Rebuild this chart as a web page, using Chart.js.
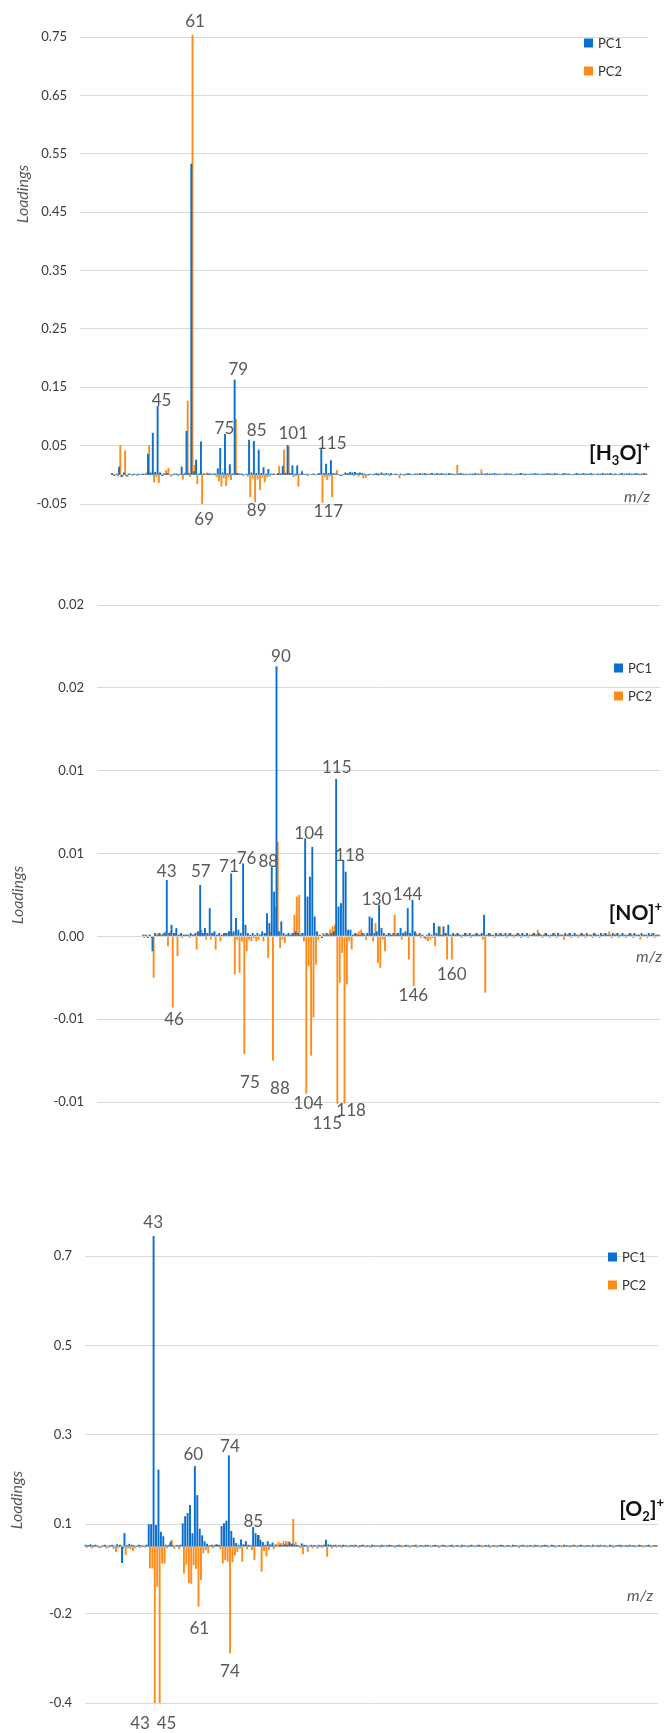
<!DOCTYPE html>
<html>
<head>
<meta charset="utf-8">
<script src="https://cdn.jsdelivr.net/npm/chart.js@4.4.1/dist/chart.umd.min.js"></script>
<style>
  body { margin: 0; background: #fff; width: 665px; height: 1733px; position: relative; overflow: hidden; }
  canvas { position: absolute; left: 0; }
</style>
</head>
<body>
<canvas id="h3o" width="665" height="560" style="top:0px"></canvas>
<canvas id="no" width="665" height="600" style="top:560px"></canvas>
<canvas id="o2" width="665" height="573" style="top:1160px"></canvas>
<script>
// m/z channels 15..250, one bar pair per channel
const mzValues = Array.from({ length: 236 }, (_, i) => 15 + i);

// ---- [H3O]+ loadings (rows of 10, starting at m/z 15) ----
const h3oPc1 = [
  null, null, null, null, null, null, null, null, null, null,
  null, null, null, 0.003, -0.002, 0.002, 0.014, -0.004, 0.004, -0.002,
  0.002, 0.001, 0.002, 0.001, 0.002, 0.001, 0.002, 0.002, 0.036, 0.004,
  0.072, 0.005, 0.118, 0.004, -0.002, 0.002, 0.003, 0.001, -0.001, 0.002,
  0.002, 0.001, 0.014, 0.002, 0.075, 0.003, 0.533, 0.006, 0.026, 0.002,
  0.057, 0.002, 0.001, 0.002, 0.002, 0.001, 0.002, 0.011, 0.046, 0.004,
  0.070, 0.003, 0.018, 0.002, 0.163, 0.003, 0.002, 0.002, 0.001, 0.002,
  0.060, 0.004, 0.058, 0.003, 0.043, 0.003, 0.013, 0.002, 0.010, 0.002,
  0.002, 0.001, 0.003, 0.002, 0.015, 0.003, 0.051, 0.003, 0.016, 0.002,
  0.016, 0.002, 0.006, 0.001, 0.002, 0.001, 0.001, 0.002, 0.001, 0.003,
  0.044, 0.003, 0.019, 0.003, 0.025, 0.003, 0.002, 0.001, -0.002, 0.001,
  0.004, 0.003, 0.005, 0.004, 0.005, 0.003, 0.004, 0.003, 0.002, 0.001,
  0.002, 0.001, 0.002, 0.003, 0.002, 0.004, 0.002, 0.003, 0.002, 0.003,
  0.001, 0.002, 0.001, 0.002, 0.001, 0.002, 0.003, 0.002, 0.001, 0.002,
  0.002, 0.003, 0.002, 0.003, 0.002, 0.002, 0.003, 0.002, 0.003, 0.002,
  0.003, 0.002, 0.002, 0.003, 0.002, 0.002, 0.001, 0.002, 0.003, 0.002,
  0.002, 0.001, 0.002, 0.002, 0.003, 0.002, 0.001, 0.002, 0.002, 0.003,
  0.002, 0.002, 0.003, 0.002, 0.002, 0.001, 0.002, 0.003, 0.002, 0.002,
  0.001, 0.002, 0.002, 0.003, 0.002, 0.002, 0.001, 0.002, 0.002, 0.003,
  0.002, 0.001, 0.002, 0.002, 0.003, 0.002, 0.002, 0.003, 0.002, 0.001,
  0.002, 0.003, 0.002, 0.002, 0.001, 0.002, 0.003, 0.002, 0.002, 0.003,
  0.002, 0.002, 0.003, 0.002, 0.001, 0.002, 0.002, 0.003, 0.002, 0.002,
  0.003, 0.002, 0.002, 0.001, 0.002, 0.003, 0.002, 0.002, 0.003, 0.002,
  0.002, 0.003, 0.002, 0.002, 0.003, 0.002
];
const h3oPc2 = [
  null, null, null, null, null, null, null, null, null, null,
  null, null, null, 0.002, 0.001, -0.003, 0.051, -0.003, 0.042, -0.004,
  0.002, -0.002, 0.001, -0.002, 0.001, 0.002, 0.001, 0.004, 0.051, 0.003,
  -0.013, -0.004, -0.014, 0.002, 0.003, 0.008, 0.012, -0.003, 0.002, 0.001,
  -0.002, 0.002, -0.008, 0.004, 0.127, -0.004, 0.754, 0.017, -0.016, 0.003,
  -0.050, 0.003, 0.004, 0.003, 0.002, 0.003, -0.004, -0.011, -0.020, -0.006,
  -0.019, -0.004, -0.009, 0.002, 0.096, 0.003, 0.002, -0.002, -0.001, -0.003,
  -0.038, -0.006, -0.047, -0.008, -0.026, -0.005, -0.013, -0.004, -0.003, 0.001,
  0.002, 0.001, 0.015, 0.003, 0.043, 0.004, 0.049, 0.003, -0.004, -0.002,
  -0.020, 0.001, 0.002, 0.001, -0.002, 0.001, 0.002, -0.001, 0.002, 0.001,
  -0.048, -0.004, -0.009, -0.003, -0.038, 0.002, 0.008, 0.001, -0.002, 0.001,
  0.002, -0.001, 0.002, -0.002, 0.001, -0.003, 0.002, -0.006, -0.005, -0.002,
  0.001, -0.001, 0.002, -0.002, 0.001, 0.002, -0.001, 0.001, -0.002, 0.001,
  0.002, -0.001, -0.006, 0.001, -0.002, 0.001, 0.002, -0.001, 0.001, 0.002,
  -0.001, 0.001, 0.002, -0.001, 0.001, 0.002, 0.001, -0.001, 0.001, 0.002,
  0.001, -0.001, 0.001, 0.002, 0.001, -0.001, 0.017, 0.002, 0.001, -0.001,
  0.001, 0.002, 0.001, -0.001, 0.001, 0.002, 0.009, 0.001, -0.001, 0.001,
  0.002, 0.001, -0.001, 0.001, 0.002, 0.001, -0.001, 0.001, 0.002, 0.001,
  -0.001, 0.001, 0.002, 0.001, -0.001, 0.001, 0.002, 0.001, -0.001, 0.001,
  0.001, 0.002, -0.001, 0.001, 0.001, 0.002, -0.001, 0.001, 0.002, 0.001,
  -0.001, 0.001, 0.002, 0.001, -0.001, 0.001, 0.002, 0.001, 0.001, -0.001,
  0.002, 0.001, -0.001, 0.001, 0.002, 0.001, 0.001, -0.001, 0.002, 0.001,
  0.001, -0.001, 0.002, 0.001, 0.001, -0.001, 0.002, 0.001, -0.001, 0.001,
  0.002, 0.001, -0.001, 0.001, 0.002, 0.001
];

// ---- [NO]+ loadings ----
const noPc1 = [
  null, null, null, null, null, null, null, null, null, null,
  null, null, null, null, null, null, null, null, null, 0.0001,
  0.0001, -0.0001, 0.0001, -0.0009, 0.0002, 0.0001, 0.0002, 0.0001, 0.0002, 0.0034,
  0.0002, 0.0007, 0.0002, 0.0005, 0.0001, 0.0002, 0.0001, 0.0001, 0.0001, 0.0002,
  0.0001, 0.0002, 0.0003, 0.0031, 0.0002, 0.0005, 0.0002, 0.0017, 0.0002, 0.0003,
  0.0001, 0.0002, 0.0001, 0.0002, 0.0002, 0.0003, 0.0038, 0.0003, 0.0011, 0.0004,
  0.0002, 0.0044, 0.0007, 0.0002, 0.0001, 0.0002, 0.0001, 0.0002, 0.0001, 0.0003,
  0.0002, 0.0014, 0.0008, 0.0042, 0.0027, 0.0163, 0.0003, 0.0009, 0.0002, 0.0001,
  0.0002, 0.0001, 0.0002, 0.0003, 0.0002, 0.0001, 0.0002, 0.0059, 0.0024, 0.0036,
  0.0054, 0.0012, 0.0003, 0.0001, -0.0001, 0.0001, 0.0002, 0.0001, 0.0002, 0.0003,
  0.0095, 0.0018, 0.0020, 0.0046, 0.0039, 0.0004, 0.0004, 0.0001, 0.0002, 0.0001,
  0.0001, 0.0002, 0.0001, 0.0002, 0.0012, 0.0011, 0.0002, 0.0003, 0.0019, 0.0005,
  0.0002, 0.0001, 0.0002, 0.0001, 0.0002, 0.0001, 0.0002, 0.0005, 0.0002, 0.0003,
  0.0017, 0.0002, 0.0022, 0.0003, 0.0001, 0.0002, 0.0001, -0.0001, 0.0001, 0.0002,
  0.0001, 0.0008, 0.0002, 0.0006, 0.0001, 0.0006, 0.0002, 0.0007, 0.0001, 0.0002,
  0.0001, 0.0002, 0.0001, 0.0001, 0.0002, 0.0001, 0.0002, 0.0001, 0.0001, 0.0002,
  0.0001, 0.0002, 0.0013, 0.0001, 0.0002, 0.0001, 0.0001, 0.0002, 0.0001, 0.0002,
  0.0001, 0.0002, 0.0001, 0.0002, 0.0001, 0.0001, 0.0002, 0.0001, 0.0002, 0.0001,
  0.0002, 0.0001, 0.0001, 0.0002, 0.0001, 0.0002, 0.0001, 0.0001, 0.0002, 0.0001,
  0.0001, 0.0002, 0.0001, 0.0002, 0.0001, 0.0001, 0.0002, 0.0001, 0.0002, 0.0001,
  0.0002, 0.0001, 0.0001, 0.0002, 0.0001, 0.0002, 0.0001, 0.0001, 0.0002, 0.0001,
  0.0001, 0.0002, 0.0001, 0.0002, 0.0001, 0.0001, 0.0002, 0.0001, 0.0002, 0.0001,
  0.0002, 0.0001, 0.0001, 0.0002, 0.0001, 0.0002, 0.0001, 0.0001, 0.0002, 0.0001,
  0.0001, 0.0002, 0.0001, 0.0002, 0.0001, 0.0001
];
const noPc2 = [
  null, null, null, null, null, null, null, null, null, null,
  null, null, null, null, null, null, null, null, null, -0.0001,
  0.0001, 0.0001, -0.0001, -0.0025, 0.0001, 0.0002, 0.0001, 0.0002, 0.0003, -0.0006,
  0.0003, -0.0043, 0.0002, -0.0012, 0.0001, -0.0001, 0.0001, 0.0001, -0.0001, 0.0001,
  0.0001, -0.0008, 0.0003, 0.0004, 0.0002, -0.0002, 0.0001, -0.0002, 0.0002, -0.0008,
  0.0001, -0.0003, 0.0001, 0.0002, 0.0001, 0.0003, 0.0002, -0.0023, -0.0002, -0.0022,
  -0.0003, -0.0071, -0.0009, -0.0002, -0.0003, -0.0001, -0.0003, -0.0002, 0.0001, -0.0003,
  0.0002, -0.0013, 0.0003, -0.0075, 0.0018, 0.0057, -0.0007, -0.0002, -0.0004, 0.0001,
  0.0001, 0.0002, 0.0013, 0.0024, 0.0025, 0.0002, -0.0003, -0.0095, -0.0018, -0.0072,
  -0.0049, -0.0017, -0.0002, 0.0001, 0.0002, 0.0001, 0.0002, 0.0004, 0.0006, 0.0007,
  -0.0101, -0.0028, -0.0010, -0.0101, -0.0029, -0.0003, -0.0008, 0.0001, 0.0002, 0.0003,
  0.0004, 0.0002, -0.0002, 0.0001, 0.0002, -0.0003, 0.0008, -0.0016, -0.0019, -0.0002,
  -0.0009, 0.0001, 0.0002, 0.0001, 0.0013, 0.0002, 0.0001, -0.0002, 0.0001, 0.0002,
  -0.0014, 0.0001, -0.0030, 0.0002, 0.0001, -0.0001, 0.0001, -0.0002, -0.0003, -0.0002,
  -0.0001, -0.0006, 0.0001, 0.0006, 0.0001, 0.0002, -0.0014, 0.0001, -0.0014, 0.0001,
  0.0002, 0.0001, -0.0001, 0.0001, 0.0002, 0.0001, -0.0001, 0.0001, 0.0002, 0.0001,
  0.0001, -0.0002, -0.0034, 0.0001, 0.0002, 0.0001, -0.0001, 0.0001, 0.0002, 0.0001,
  0.0001, -0.0001, 0.0002, 0.0001, -0.0001, 0.0001, 0.0002, -0.0001, 0.0001, 0.0001,
  -0.0001, 0.0001, 0.0002, 0.0001, 0.0004, 0.0001, -0.0001, 0.0002, 0.0001, -0.0001,
  0.0001, 0.0002, -0.0001, 0.0001, 0.0001, -0.0002, 0.0001, 0.0002, -0.0001, 0.0001,
  0.0001, -0.0001, 0.0002, 0.0001, -0.0001, 0.0001, 0.0001, -0.0001, 0.0002, 0.0001,
  -0.0001, 0.0001, 0.0002, 0.0001, 0.0003, -0.0001, 0.0001, 0.0002, -0.0001, 0.0001,
  0.0001, -0.0001, 0.0001, 0.0002, -0.0001, 0.0001, 0.0001, -0.0002, 0.0001, 0.0001,
  -0.0001, 0.0001, 0.0002, -0.0001, 0.0001, 0.0001
];

// ---- [O2]+ loadings ----
const o2Pc1 = [
  0.004, 0.003, 0.005, 0.003, 0.004, 0.002, -0.002, 0.003, 0.004, 0.002,
  0.003, 0.004, 0.002, 0.005, 0.004, -0.037, 0.030, 0.003, 0.006, 0.004,
  0.003, 0.002, 0.004, 0.003, 0.002, 0.004, 0.050, 0.050, 0.695, 0.048,
  0.172, 0.033, 0.023, 0.004, 0.003, 0.011, 0.003, 0.002, 0.003, 0.004,
  0.052, 0.068, 0.075, 0.093, 0.030, 0.180, 0.115, 0.040, 0.025, 0.012,
  0.006, 0.003, 0.004, 0.003, 0.005, 0.004, 0.046, 0.052, 0.058, 0.204,
  0.035, 0.020, 0.008, 0.004, 0.016, 0.005, 0.012, 0.004, 0.003, 0.044,
  0.030, 0.026, 0.015, 0.010, 0.004, 0.012, 0.005, 0.009, 0.003, 0.002,
  0.004, 0.003, 0.005, 0.004, 0.010, 0.006, 0.004, 0.003, 0.002, 0.007,
  0.004, 0.003, 0.002, 0.004, 0.003, 0.002, 0.004, 0.003, 0.004, 0.015,
  0.005, 0.004, 0.003, 0.004, 0.002, 0.003, 0.004, 0.003, 0.002, 0.003,
  0.003, 0.004, 0.002, 0.003, 0.004, 0.002, 0.003, 0.002, 0.004, 0.003,
  0.002, 0.003, 0.004, 0.002, 0.003, 0.004, 0.003, 0.002, 0.003, 0.004,
  0.003, 0.002, 0.004, 0.003, 0.002, 0.003, 0.004, 0.002, 0.003, 0.002,
  0.004, 0.003, 0.002, 0.003, 0.004, 0.003, 0.002, 0.004, 0.003, 0.002,
  0.003, 0.004, 0.002, 0.003, 0.002, 0.004, 0.003, 0.002, 0.003, 0.004,
  0.002, 0.003, 0.004, 0.003, 0.002, 0.003, 0.004, 0.002, 0.003, 0.002,
  0.003, 0.004, 0.003, 0.002, 0.003, 0.002, 0.004, 0.003, 0.002, 0.003,
  0.004, 0.002, 0.003, 0.003, 0.002, 0.004, 0.003, 0.002, 0.003, 0.004,
  0.003, 0.002, 0.004, 0.003, 0.002, 0.003, 0.002, 0.004, 0.003, 0.002,
  0.003, 0.004, 0.002, 0.003, 0.004, 0.002, 0.003, 0.003, 0.002, 0.004,
  0.002, 0.003, 0.004, 0.002, 0.003, 0.002, 0.004, 0.003, 0.002, 0.003,
  0.004, 0.003, 0.002, 0.003, 0.004, 0.002, 0.003, 0.002, 0.004, 0.003,
  0.002, 0.003, 0.004, 0.002, 0.003, 0.003
];
const o2Pc2 = [
  -0.003, 0.002, -0.004, -0.002, 0.003, -0.003, -0.002, 0.002, -0.004, -0.003,
  0.002, -0.005, -0.012, -0.004, 0.004, -0.006, -0.019, -0.004, -0.006, -0.010,
  -0.004, 0.003, -0.003, 0.002, -0.002, 0.004, -0.049, -0.049, -0.350, -0.090,
  -0.350, -0.038, -0.038, -0.004, 0.005, 0.015, -0.005, 0.004, -0.006, 0.003,
  -0.060, -0.040, -0.082, -0.083, -0.042, -0.050, -0.134, -0.075, -0.015, -0.008,
  -0.015, 0.003, -0.004, 0.005, 0.003, -0.006, -0.038, -0.030, -0.034, -0.239,
  -0.035, -0.020, -0.012, -0.005, -0.034, 0.004, -0.006, 0.003, -0.008, -0.030,
  0.002, 0.026, -0.056, -0.010, -0.022, -0.008, 0.004, -0.006, 0.006, 0.010,
  0.008, 0.012, 0.012, 0.012, 0.006, 0.062, 0.010, 0.004, -0.004, -0.017,
  0.003, -0.012, 0.002, -0.004, 0.003, -0.005, 0.002, -0.003, 0.004, -0.023,
  0.002, -0.004, 0.003, -0.002, 0.004, -0.003, 0.002, 0.003, -0.002, 0.004,
  -0.002, 0.003, -0.003, 0.002, 0.004, -0.002, 0.003, -0.003, 0.002, 0.003,
  0.002, -0.003, 0.003, 0.002, -0.002, 0.003, 0.002, -0.003, 0.003, 0.002,
  -0.002, 0.003, 0.002, -0.003, 0.002, 0.003, -0.002, 0.002, 0.003, -0.002,
  0.003, 0.002, -0.002, 0.003, 0.002, -0.003, 0.002, 0.003, -0.002, 0.002,
  0.003, -0.002, 0.002, 0.003, -0.003, 0.002, 0.002, -0.002, 0.003, 0.002,
  -0.002, 0.003, 0.002, -0.002, 0.003, 0.002, -0.003, 0.002, 0.003, -0.002,
  0.002, 0.003, -0.002, 0.002, 0.003, -0.002, 0.002, 0.003, -0.003, 0.002,
  0.003, -0.002, 0.002, 0.003, -0.002, 0.002, 0.003, -0.002, 0.002, 0.003,
  -0.002, 0.002, 0.003, -0.003, 0.002, 0.003, -0.002, 0.002, 0.003, -0.002,
  0.002, 0.003, -0.002, 0.002, 0.003, -0.002, 0.002, 0.003, -0.002, 0.002,
  0.003, -0.002, 0.002, 0.003, -0.002, 0.002, 0.003, -0.003, 0.002, 0.003,
  -0.002, 0.002, 0.003, -0.002, 0.002, 0.003, -0.002, 0.002, 0.003, -0.002,
  0.002, 0.003, -0.002, 0.002, 0.003, 0.002
];

// y tick labels as printed (bottom to top)
const h3oTicks = ['-0.05', '0.05', '0.15', '0.25', '0.35', '0.45', '0.55', '0.65', '0.75'];
const noTicks = ['-0.01', '-0.01', '0.00', '0.01', '0.01', '0.02', '0.02'];
const o2Ticks = ['-0.4', '-0.2', '0.1', '0.3', '0.5', '0.7'];

// peak annotations: [m/z position, loading, text]
const h3oPeaks = [
  [62.3, 0.776, '61'], [48.4, 0.128, '45'], [80.3, 0.181, '79'], [74.5, 0.080, '75'],
  [87.9, 0.076, '85'], [103.1, 0.071, '101'], [119.1, 0.053, '115'],
  [66.1, -0.076, '69'], [87.9, -0.062, '89'], [117.7, -0.063, '117']
];
const noPeaks = [
  [91.6, 0.0169, '90'], [103.4, 0.0062, '104'], [115.0, 0.0102, '115'], [120.5, 0.0049, '118'],
  [43.7, 0.0039, '43'], [58.0, 0.0039, '57'], [69.8, 0.0042, '71'], [77.2, 0.0047, '76'],
  [86.3, 0.0045, '88'], [131.7, 0.0022, '130'], [144.7, 0.0025, '144'],
  [46.8, -0.0050, '46'], [78.6, -0.0088, '75'], [91.2, -0.0092, '88'], [103.1, -0.0101, '104'],
  [111.0, -0.0113, '115'], [121.0, -0.0105, '118'], [147.1, -0.0036, '146'], [163.2, -0.0023, '160']
];
const o2Peaks = [
  [42.6, 0.725, '43'], [59.1, 0.206, '60'], [74.2, 0.223, '74'], [83.8, 0.057, '85'],
  [61.6, -0.184, '61'], [74.2, -0.280, '74'], [37.2, -0.395, '43'], [48.1, -0.395, '45']
];

const seriesNames = ['PC1', 'PC2'];
const BLUE = '#0b6fce';
const ORANGE = '#ff8c1a';
const FONT = 'Lato, "Open Sans", sans-serif';

// ---- Overlay: peak labels, legend, ion title, axis captions ----
function drawTitle(ctx, parts, right, cy) {
  const size = 21;
  const fontFor = k => k === 'n' ? `bold ${size}px ${FONT}` : `bold ${Math.round(size * 0.62)}px ${FONT}`;
  let total = 0;
  parts.forEach(([t, k]) => { ctx.font = fontFor(k); total += ctx.measureText(t).width; });
  let x = right - total;
  const base = cy + size * 0.36;
  ctx.fillStyle = '#111';
  ctx.textAlign = 'left';
  ctx.textBaseline = 'alphabetic';
  parts.forEach(([t, k]) => {
    ctx.font = fontFor(k);
    const dy = k === 'sub' ? size * 0.26 : k === 'sup' ? -size * 0.4 : 0;
    ctx.fillText(t, x, base + dy);
    x += ctx.measureText(t).width;
  });
}

function overlay(cfg) {
  return {
    id: 'overlay_' + cfg.id,
    afterDatasetsDraw(chart) {
      const { ctx, scales: { x, y } } = chart;
      ctx.save();

      // peak numbers
      ctx.font = `17px ${FONT}`;
      ctx.fillStyle = '#595959';
      ctx.textAlign = 'center';
      ctx.textBaseline = 'middle';
      cfg.peaks.forEach(([mz, v, txt]) => {
        ctx.fillText(txt, x.getPixelForValue(mz - mzValues[0]), y.getPixelForValue(v));
      });

      // legend
      ctx.font = `13px ${FONT}`;
      ctx.textAlign = 'left';
      chart.data.datasets.forEach((ds, i) => {
        const cy = cfg.legend.y[i];
        ctx.fillStyle = ds.backgroundColor;
        ctx.fillRect(cfg.legend.x, cy - 4.5, 9, 9);
        ctx.fillStyle = '#333';
        ctx.fillText(ds.label, cfg.legend.x + 14, cy + 1);
      });

      // ion title
      drawTitle(ctx, cfg.title, cfg.titlePos[0], cfg.titlePos[1]);

      // m/z caption
      ctx.font = `italic 16px ${FONT}`;
      ctx.fillStyle = '#595959';
      ctx.textAlign = 'right';
      ctx.textBaseline = 'middle';
      ctx.fillText('m/z', cfg.mzPos[0], cfg.mzPos[1]);

      // y caption
      ctx.translate(cfg.yCaption[0], cfg.yCaption[1]);
      ctx.rotate(-Math.PI / 2);
      ctx.textAlign = 'center';
      ctx.fillText('Loadings', 0, 0);
      ctx.restore();
    }
  };
}

function makePanel(cfg) {
  return new Chart(document.getElementById(cfg.id), {
    type: 'bar',
    data: {
      labels: mzValues,
      datasets: [
        { label: seriesNames[0], data: cfg.pc1, backgroundColor: BLUE },
        { label: seriesNames[1], data: cfg.pc2, backgroundColor: ORANGE }
      ]
    },
    options: {
      responsive: false,
      animation: false,
      devicePixelRatio: 1,
      layout: { padding: cfg.padding },
      datasets: { bar: { barPercentage: 1.6, categoryPercentage: 1, clip: false, borderWidth: 0 } },
      plugins: { legend: { display: false }, tooltip: { enabled: false } },
      scales: {
        x: { display: false, offset: true },
        y: {
          min: cfg.min, max: cfg.max,
          afterFit: s => { s.width = cfg.axisWidth; },
          border: { display: false },
          grid: { color: '#d9d9d9', lineWidth: 1, drawTicks: false },
          ticks: {
            stepSize: cfg.step, padding: 13, color: '#3a3a3a',
            font: { family: FONT, size: 13 },
            callback: (v, i) => cfg.ticks[i]
          }
        }
      }
    },
    plugins: [overlay(cfg)]
  });
}

makePanel({
  id: 'h3o', pc1: h3oPc1, pc2: h3oPc2, ticks: h3oTicks, peaks: h3oPeaks,
  min: -0.05, max: 0.75, step: 0.1, axisWidth: 80,
  padding: { top: 37, bottom: 56, left: 0, right: 17 },
  legend: { x: 584, y: [43, 71] },
  title: [['[H', 'n'], ['3', 'sub'], ['O]', 'n'], ['+', 'sup']], titlePos: [650, 452],
  mzPos: [650, 497], yCaption: [23, 194]
});

makePanel({
  id: 'no', pc1: noPc1, pc2: noPc2, ticks: noTicks, peaks: noPeaks,
  min: -0.01, max: 0.02, step: 0.005, axisWidth: 97,
  padding: { top: 45, bottom: 58, left: 0, right: 5 },
  legend: { x: 614, y: [108, 136] },
  title: [['[NO]', 'n'], ['+', 'sup']], titlePos: [662, 352],
  mzPos: [662, 397], yCaption: [18, 335]
});

makePanel({
  id: 'o2', pc1: o2Pc1, pc2: o2Pc2, ticks: o2Ticks, peaks: o2Peaks,
  min: -0.35, max: 0.65, step: 0.2, axisWidth: 85,
  padding: { top: 96, bottom: 30, left: 0, right: 7 },
  legend: { x: 608, y: [97, 125] },
  title: [['[O', 'n'], ['2', 'sub'], [']', 'n'], ['+', 'sup']], titlePos: [664, 348],
  mzPos: [653, 436], yCaption: [17, 340]
});
</script>
</body>
</html>
